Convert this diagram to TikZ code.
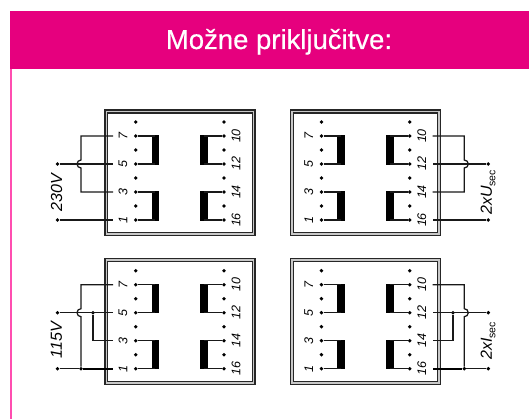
\documentclass[tikz,border=0pt]{standalone}
\usepackage{fontspec}
\setmainfont{Liberation Sans}
\newfontfamily\titlefont[FakeBold=0.4]{Liberation Sans}
\definecolor{banner}{HTML}{E6007E}
\definecolor{sideline}{HTML}{FF4DB0}
\definecolor{band}{HTML}{C8C8C8}
\newcommand{\secsub}{\raisebox{-3.5pt}{\fontsize{10.5}{10}\selectfont\upshape sec}}
\tikzset{
  x=1pt,y=-1pt,
  pin/.style={circle,fill=black,draw=none,inner sep=0pt,minimum size=3.8pt},
  wire/.style={line width=1.25pt,black!90},
  heavy/.style={line width=1.9pt,black},
  core/.style={fill=black,draw=none},
  pinlabel/.style={rotate=90,inner sep=0pt,font=\fontsize{12.5}{13}\selectfont\itshape,anchor=center},
  volt/.style={rotate=90,inner sep=0pt,font=\fontsize{16}{17}\selectfont\itshape,anchor=center},
  outerframe/.style={draw=black!85,line width=1.1pt,fill=band},
  innerframe/.style={draw=black!85,line width=1.1pt,fill=white},
  pics/transformer/.style={code={
    \path[outerframe] (105,110) rectangle (255,235.5);
    \path[innerframe] (107.8,113) rectangle (252.2,232.7);
    \foreach \n/\yy in {a/122,b/136,c/150,d/164,e/178,f/192,g/206,h/220}{
      \node[pin] (-l\n) at (135.7,\yy) {};
      \node[pin] (-r\n) at (224,\yy) {};
    }
    \fill[core] (151.7,135.4) rectangle (159.3,164.6);
    \fill[core] (151.7,191.4) rectangle (159.3,220.6);
    \fill[core] (200.2,135.4) rectangle (207.8,164.6);
    \fill[core] (200.2,191.4) rectangle (207.8,220.6);
    \draw[wire] (-lb) -- (155,136);
    \draw[wire] (-ld) -- (155,164);
    \draw[wire] (-lf) -- (155,192);
    \draw[wire] (-lh) -- (155,220);
    \draw[wire] (-rb) -- (204,136);
    \draw[wire] (-rd) -- (204,164);
    \draw[wire] (-rf) -- (204,192);
    \draw[wire] (-rh) -- (204,220);
    \node[pinlabel] (-n7) at (123,136) {7};
    \node[pinlabel] (-n5) at (123,164) {5};
    \node[pinlabel] (-n3) at (123,192) {3};
    \node[pinlabel] (-n1) at (123,220) {1};
    \node[pinlabel] (-n10) at (236,136) {10};
    \node[pinlabel] (-n12) at (236,164) {12};
    \node[pinlabel] (-n14) at (236,192) {14};
    \node[pinlabel] (-n16) at (236,220) {16};
    \coordinate (-s7) at (113,136);
    \coordinate (-s5) at (113,164);
    \coordinate (-s3) at (113,192);
    \coordinate (-s1) at (113,220);
    \coordinate (-s10) at (247,136);
    \coordinate (-s12) at (247,164);
    \coordinate (-s14) at (247,192);
    \coordinate (-s16) at (247,220);
  }}
}
\begin{document}
\begin{tikzpicture}
\useasboundingbox (0,0) rectangle (529,419);
\fill[banner] (10,11) rectangle (529,69);
\draw[sideline,line width=2pt] (11,69) -- (11,419);
\node[text=white,font=\fontsize{27.5}{28}\selectfont\titlefont,anchor=base,inner sep=0pt] (title) at (279,49) {Možne priključitve:};

% panels
\pic (A) at (0,0) {transformer};
\pic (B) at (185.7,0) {transformer};
\pic (C) at (0,148.7) {transformer};
\pic (D) at (185.7,148.7) {transformer};

% top left
\node[pin] (A5) at (57.5,164) {};
\node[pin] (A1) at (57.5,220) {};
\coordinate (Atop) at (81,136);
\coordinate (Abot) at (81,192);
\draw[wire] (A5) -- (A-s5);
\draw[wire] (A1) -- (A-s1);
\draw[wire] (A-s7) -- (Atop) -- (81,160) arc[start angle=-90,end angle=-270,radius=4] -- (Abot) -- (A-s3);
\node[volt] (Alabel) at (56.5,193) {230V};

% top right
\node[pin] (B12) at (488.3,164) {};
\node[pin] (B16) at (488.3,220) {};
\coordinate (Btop) at (464.3,136);
\coordinate (Bbot) at (464.3,192);
\draw[wire] (B12) -- (B-s12);
\draw[wire] (B16) -- (B-s16);
\draw[wire] (B-s10) -- (Btop) -- (464.3,160) arc[start angle=-90,end angle=90,radius=4] -- (Bbot) -- (B-s14);
\node[volt] (Blabel) at (488,192.5) {2x\textit{U}\secsub};

% bottom left
\node[pin] (C5) at (57.5,312.7) {};
\node[pin] (C1) at (57.5,368.7) {};
\node[pin] (Cj) at (93,312.7) {};
\node[pin] (Cb) at (81,368.7) {};
\coordinate (Ctop) at (81,284.7);
\coordinate (Cmid) at (93,340.7);
\draw[wire] (C5) -- (C-s5);
\draw[wire] (C1) -- (Cb);
\draw[heavy] (Cb) -- (C-s1);
\draw[wire] (C-s7) -- (Ctop) -- (81,308.7) arc[start angle=-90,end angle=-270,radius=4] -- (Cb);
\draw[wire] (Cj) -- (Cmid) -- (C-s3);
\node[volt] (Clabel) at (56.5,340) {115V};

% bottom right
\node[pin] (D12) at (488.3,312.7) {};
\node[pin] (D16) at (488.3,368.7) {};
\node[pin] (Dj) at (453,312.7) {};
\node[pin] (Db) at (464.3,368.7) {};
\coordinate (Dtop) at (464.3,284.7);
\coordinate (Dmid) at (453,340.7);
\draw[wire] (D12) -- (D-s12);
\draw[wire] (D16) -- (Db);
\draw[heavy] (Db) -- (D-s16);
\draw[wire] (D-s10) -- (Dtop) -- (464.3,308.7) arc[start angle=-90,end angle=90,radius=4] -- (Db);
\draw[wire] (Dj) -- (Dmid) -- (D-s14);
\node[volt] (Dlabel) at (488,341) {2x\textit{I}\secsub};
\end{tikzpicture}
\end{document}
